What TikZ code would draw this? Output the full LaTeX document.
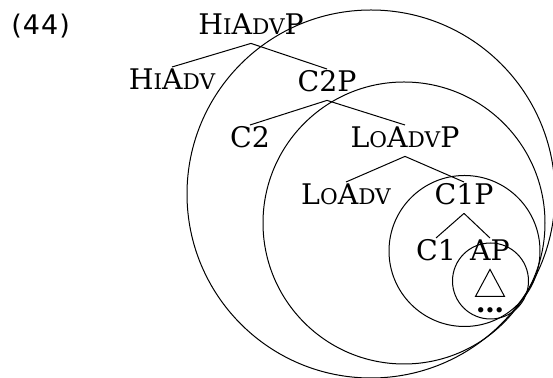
\documentclass[tikz,border=0pt]{standalone}
\usepackage{fontspec}
\setmainfont{DejaVu Serif}
\newfontfamily\numfont[LetterSpace=4]{DejaVu Sans}
\newcommand\mysc[1]{{\fontsize{10.8}{12}\selectfont #1}}
\begin{document}
\begin{tikzpicture}[x=0.5pt,y=-0.5pt,
  tn/.style={anchor=base,inner sep=1pt,text height=10.3pt,text depth=3pt,font=\fontsize{14.2}{16}\selectfont},
  ring/.style={line width=0.5pt},
  br/.style={line width=0.5pt}]
\useasboundingbox (0,0) rectangle (553,378);
% circles
\draw[ring] (371,194) circle [radius=92pt];
\draw[ring] (404,223) circle [radius=70.5pt];
\draw[ring] (464.5,251) circle [radius=37.75pt];
\draw[ring] (490.5,281) circle [radius=19pt];
% label
\node[anchor=base west,inner sep=0pt,font=\numfont\fontsize{13.5}{15}\selectfont] (num) at (11,35) {(44)};
% tree nodes
\node[tn] (hiadvp) at (251,35) {H\mysc{I}A\mysc{DV}P};
\node[tn] (hiadv) at (172,90) {H\mysc{I}A\mysc{DV}};
\node[tn] (c2p) at (327,92) {C2P};
\node[tn] (c2) at (250,148) {C2};
\node[tn] (loadvp) at (405,148) {L\mysc{O}A\mysc{DV}P};
\node[tn] (loadv) at (346,205) {L\mysc{O}A\mysc{DV}};
\node[tn] (c1p) at (464,205) {C1P};
\node[tn] (c1) at (436,261) {C1};
\node[tn] (ap) at (490,261) {AP};
\node[tn] (dots) at (490,313) {\textbf{…}};
% branches
\draw[br] (hiadvp.south) -- (hiadv.north);
\draw[br] (hiadvp.south) -- (c2p.north);
\draw[br] (c2p.south) -- (c2.north);
\draw[br] (c2p.south) -- (loadvp.north);
\draw[br] (loadvp.south) -- (loadv.north);
\draw[br] (loadvp.south) -- (c1p.north);
\draw[br] (c1p.south) -- (c1.north);
\draw[br] (c1p.south) -- (ap.north);
\draw[br] (ap.south) -- ++(-14.5,27) -- ++(29,0) -- cycle;
\end{tikzpicture}
\end{document}
